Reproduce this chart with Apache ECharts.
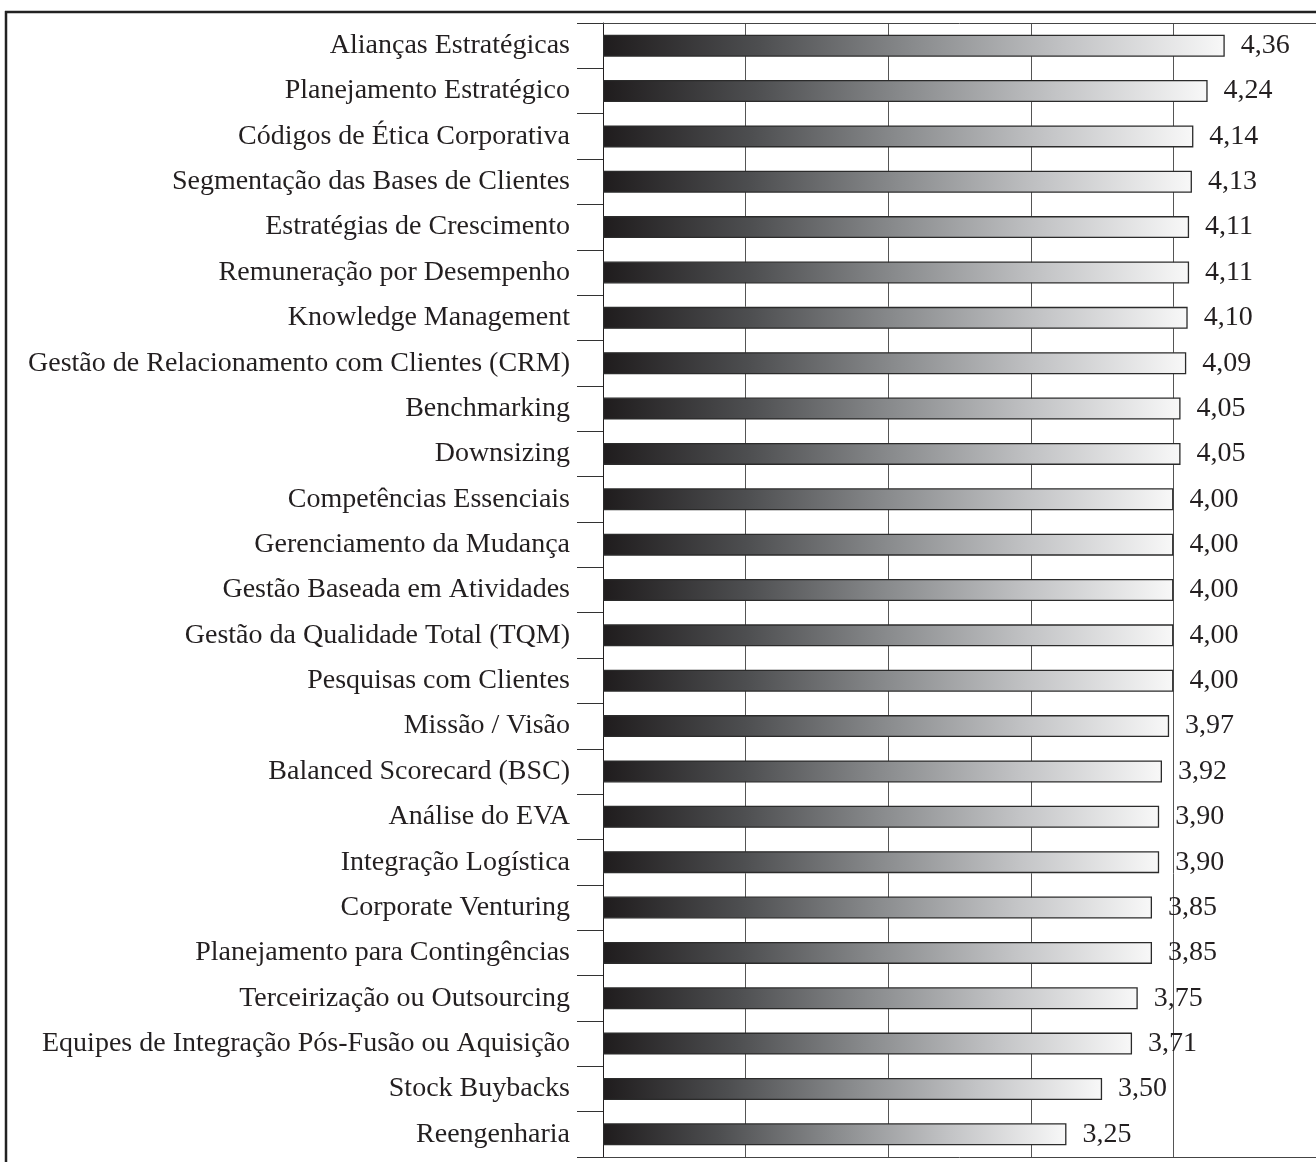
<!DOCTYPE html>
<html>
<head>
<meta charset="utf-8">
<script src="https://cdn.jsdelivr.net/npm/echarts@6/dist/echarts.min.js"></script>
<style>
  html, body { margin: 0; padding: 0; background: #fff; }
  #chart { width: 1316px; height: 1162px; }
</style>
</head>
<body>
<div id="chart"></div>
<script>
// Management tools, mean satisfaction score (scale 0–5)
const tools = [
  'Alianças Estratégicas',
  'Planejamento Estratégico',
  'Códigos de Ética Corporativa',
  'Segmentação das Bases de Clientes',
  'Estratégias de Crescimento',
  'Remuneração por Desempenho',
  'Knowledge Management',
  'Gestão de Relacionamento com Clientes (CRM)',
  'Benchmarking',
  'Downsizing',
  'Competências Essenciais',
  'Gerenciamento da Mudança',
  'Gestão Baseada em Atividades',
  'Gestão da Qualidade Total (TQM)',
  'Pesquisas com Clientes',
  'Missão / Visão',
  'Balanced Scorecard (BSC)',
  'Análise do EVA',
  'Integração Logística',
  'Corporate Venturing',
  'Planejamento para Contingências',
  'Terceirização ou Outsourcing',
  'Equipes de Integração Pós-Fusão ou Aquisição',
  'Stock Buybacks',
  'Reengenharia'
];
const scores = [
  4.36, 4.24, 4.14, 4.13, 4.11, 4.11, 4.10, 4.09, 4.05, 4.05,
  4.00, 4.00, 4.00, 4.00, 4.00, 3.97, 3.92, 3.90, 3.90, 3.85,
  3.85, 3.75, 3.71, 3.50, 3.25
];
const scaleMin = 0;
const scaleMax = 5;
const scaleStep = 1;

const FONT = '"Liberation Serif", "DejaVu Serif", serif';
const INK = '#231f20';

const chart = echarts.init(document.getElementById('chart'), null, { renderer: 'canvas' });

// dark-to-white fill, stretched over each bar's own length
const barFill = new echarts.graphic.LinearGradient(0, 0, 1, 0, [
  { offset: 0, color: '#1f1c1d' },
  { offset: 0.25, color: '#4d4e50' },
  { offset: 0.5, color: '#898b8d' },
  { offset: 0.75, color: '#c3c4c6' },
  { offset: 1, color: '#f8f8f8' }
]);

chart.setOption({
  animation: false,
  backgroundColor: '#ffffff',
  grid: { left: 603, top: 23, width: 713, bottom: 5, containLabel: false },
  xAxis: [
    {
      type: 'value',
      position: 'bottom',
      min: scaleMin,
      max: scaleMax,
      interval: scaleStep,
      axisLine: { show: true, lineStyle: { color: '#444', width: 1 } },
      axisTick: { show: false },
      axisLabel: { show: false },
      splitLine: { show: true, lineStyle: { color: '#555', width: 1 } }
    },
    {
      type: 'value',
      position: 'top',
      min: scaleMin,
      max: scaleMax,
      interval: scaleStep,
      axisLine: { show: true, lineStyle: { color: '#444', width: 1 } },
      axisTick: { show: false },
      axisLabel: { show: false },
      splitLine: { show: false }
    }
  ],
  yAxis: {
    type: 'category',
    data: tools,
    inverse: true,
    axisLine: { show: true, lineStyle: { color: INK, width: 1 } },
    axisTick: { show: true, length: 26, interval: 0, lineStyle: { color: '#333', width: 1 } },
    axisLabel: {
      interval: 0,
      margin: 33,
      color: INK,
      fontFamily: FONT,
      fontSize: 28
    }
  },
  series: [
    {
      type: 'bar',
      data: scores,
      barWidth: 22,
      itemStyle: { color: barFill, borderColor: '#2b2b2b', borderWidth: 1.3 },
      label: {
        show: true,
        position: 'right',
        distance: 16,
        color: INK,
        fontFamily: FONT,
        fontSize: 28,
        formatter: p => p.value.toFixed(2).replace('.', ',')
      },
      z: 3
    }
  ],
  graphic: [
    { type: 'line', shape: { x1: 5, y1: 12, x2: 1316, y2: 12 }, style: { stroke: '#222', lineWidth: 2.5 } },
    { type: 'line', shape: { x1: 6, y1: 11, x2: 6, y2: 1162 }, style: { stroke: '#222', lineWidth: 2.5 } }
  ]
});
</script>
</body>
</html>
